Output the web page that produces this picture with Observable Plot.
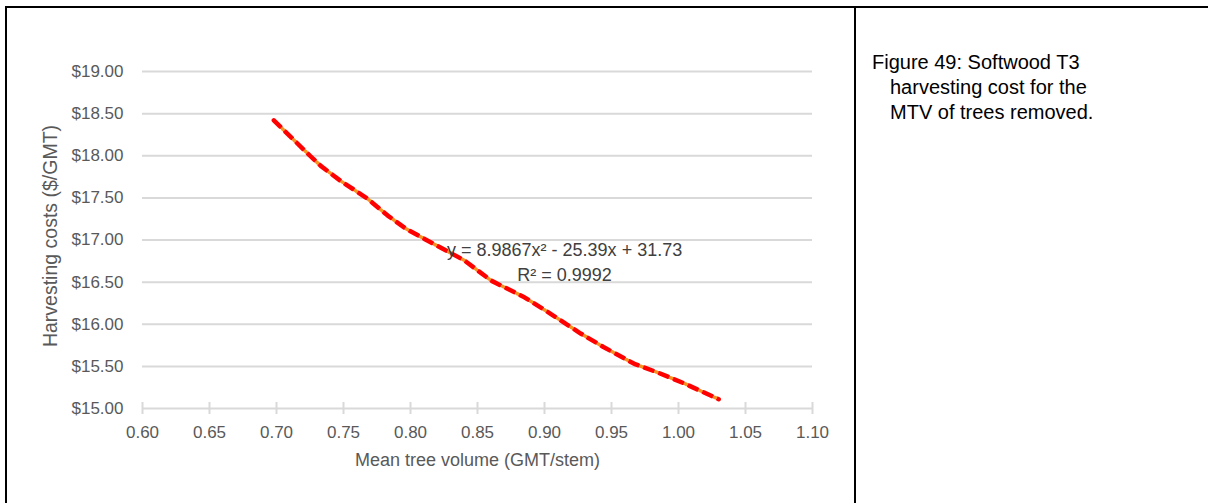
<!DOCTYPE html>
<html>
<head>
<meta charset="utf-8">
<script src="https://cdn.jsdelivr.net/npm/d3@7"></script>
<script src="https://cdn.jsdelivr.net/npm/@observablehq/plot@0.6"></script>
<style>
  html, body { margin: 0; padding: 0; background: #fff; width: 1208px; height: 503px; overflow: hidden; }
  #frame { position: absolute; left: 5px; top: 6px; width: 1220px; height: 520px; border: 2px solid #000; box-sizing: border-box; }
  #divider { position: absolute; left: 854px; top: 6px; width: 2px; height: 510px; background: #000; }
  #chart { position: absolute; left: 0; top: 0; }
  #caption { position: absolute; left: 872px; top: 50px; font-family: "Liberation Sans", Arial, sans-serif; font-size: 20px; line-height: 25px; color: #000; }
  #caption div.indent { padding-left: 18px; }
</style>
</head>
<body>
<div id="frame"></div>
<div id="divider"></div>
<div id="chart"></div>
<div id="caption">
  <div>Figure 49: Softwood T3</div>
  <div class="indent">harvesting cost for the</div>
  <div class="indent">MTV of trees removed.</div>
</div>
<script>
// Data
const treeVolume = [0.698, 0.725, 0.733, 0.748, 0.768, 0.783, 0.797, 0.820, 0.840, 0.860, 0.885, 0.904, 0.927, 0.944, 0.967, 0.984, 1.004, 1.030];
const harvestCost = [18.42, 18.00, 17.88, 17.70, 17.49, 17.29, 17.13, 16.93, 16.76, 16.52, 16.32, 16.13, 15.89, 15.73, 15.53, 15.43, 15.30, 15.11];
const xTicks = [0.60, 0.65, 0.70, 0.75, 0.80, 0.85, 0.90, 0.95, 1.00, 1.05, 1.10];
const yTicks = [15.00, 15.50, 16.00, 16.50, 17.00, 17.50, 18.00, 18.50, 19.00];
const xTitle = "Mean tree volume (GMT/stem)";
const yTitle = "Harvesting costs ($/GMT)";
const equationLines = ["y = 8.9867x² - 25.39x + 31.73", "R² = 0.9992"];

const data = treeVolume.map((x, i) => ({x, y: harvestCost[i]}));

const font = '"Liberation Sans", Arial, sans-serif';
const grey = "#595959";

const chart = Plot.plot({
  width: 855,
  height: 503,
  marginLeft: 142,
  marginRight: 43,
  marginTop: 71,
  marginBottom: 95,
  style: {background: "transparent", fontFamily: font, fontSize: "17px", color: grey, overflow: "visible"},
  x: {domain: [0.6, 1.1]},
  y: {domain: [15, 19]},
  marks: [
    Plot.gridY(yTicks, {stroke: "#d9d9d9", strokeOpacity: 1, strokeWidth: 2}),
    Plot.axisY({
      ticks: yTicks, tickSize: 0, tickPadding: 19, fontSize: 17, fill: grey,
      tickFormat: d => "$" + d.toFixed(2), label: null
    }),
    Plot.text([yTitle], {
      frameAnchor: "left", rotate: -90, dx: -92, dy: -4, text: d => d,
      fontSize: 19.5, fill: grey, textAnchor: "middle"
    }),
    Plot.axisX({
      ticks: xTicks, tickSize: 12, dy: -6, stroke: "#d9d9d9", strokeWidth: 2, strokeOpacity: 1,
      tickFormat: () => "", label: null
    }),
    Plot.axisX({
      ticks: xTicks, tickSize: 0, tickPadding: 17, fontSize: 17, fill: grey,
      tickFormat: d => d.toFixed(2), label: null
    }),
    Plot.text([xTitle], {
      frameAnchor: "bottom", dy: 57, text: d => d,
      fontSize: 18, fill: grey, textAnchor: "middle"
    }),
    Plot.line(data, {x: "x", y: "y", stroke: "#ff0000", strokeWidth: 4.5, strokeDasharray: "9,7"}),
    Plot.line(data, {x: "x", y: "y", stroke: "#f7931e", strokeWidth: 3.5, strokeDasharray: "1,15", strokeDashoffset: 4, strokeLinecap: "round"}),
    Plot.text([equationLines.join("\n")], {
      x: () => 0.915, y: () => 16.757, text: d => d,
      fontSize: 18, fill: "#404040", lineHeight: 1.37, textAnchor: "middle"
    })
  ]
});
document.getElementById("chart").appendChild(chart);
</script>
</body>
</html>
